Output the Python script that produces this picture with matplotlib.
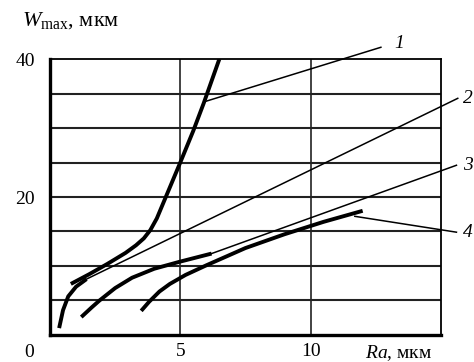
import matplotlib.pyplot as plt

plt.rcParams["font.family"] = ["Liberation Serif", "DejaVu Serif"]
plt.rcParams["mathtext.fontset"] = "custom"
plt.rcParams["mathtext.rm"] = "Liberation Serif"
plt.rcParams["mathtext.it"] = "Liberation Serif:italic"

# curve 1 (steep)
c1_x = [0.8, 1.5, 2.2, 2.9, 3.3, 3.6, 3.85, 4.1, 4.4, 4.7, 5.0, 5.5, 5.9, 6.5]
c1_y = [7.4, 8.8, 10.3, 11.9, 13.0, 14.0, 15.2, 16.9, 19.6, 22.3, 25.0, 29.6, 33.6, 40.0]
# curve 2: short thick rise, then thin straight part
c2_x = [0.35, 0.5, 0.7, 1.0, 1.4]
c2_y = [1.0, 3.6, 5.6, 7.0, 8.1]
c2_thin_x = [1.4, 15.65]
c2_thin_y = [8.1, 34.3]
# curve 3: thick part, then thin straight part
c3_x = [1.2, 1.6, 1.9, 2.5, 3.15, 4.0, 4.96, 6.2]
c3_y = [2.6, 4.0, 5.0, 6.8, 8.3, 9.6, 10.6, 11.8]
c3_thin_x = [6.2, 15.6]
c3_thin_y = [11.8, 24.6]
# curve 4
c4_x = [3.5, 3.8, 4.2, 4.6, 5.2, 6.0, 7.5, 9.0, 10.5, 12.0]
c4_y = [3.5, 4.8, 6.3, 7.4, 8.7, 10.1, 12.6, 14.6, 16.4, 18.0]

# leader lines
lead1_x = [5.92, 12.7]
lead1_y = [33.8, 41.7]
lead4_x = [11.7, 15.6]
lead4_y = [17.2, 14.9]

fig = plt.figure(figsize=(4.74, 3.62), dpi=100)
ax = fig.add_axes([0.1055, 0.0746, 0.8245, 0.7624])
ax.set_xlim(0, 15)
ax.set_ylim(0, 40)

for y in range(5, 40, 5):
    ax.axhline(y, color="#222222", lw=1.5, zorder=1)
for x in [5, 10]:
    ax.axvline(x, color="#222222", lw=1.2, zorder=1)

thick = dict(color="black", lw=2.8, solid_capstyle="butt", zorder=3)
thin = dict(color="black", lw=1.1, zorder=3, clip_on=False)

ax.plot(c1_x, c1_y, **thick)
ax.plot(c2_x, c2_y, **thick)
ax.plot(c2_thin_x, c2_thin_y, **thin)
ax.plot(c3_x, c3_y, **thick)
ax.plot(c3_thin_x, c3_thin_y, **thin)
ax.plot(c4_x, c4_y, **thick)
ax.plot(lead1_x, lead1_y, **thin)
ax.plot(lead4_x, lead4_y, **thin)

lab = dict(fontsize=14, style="italic", va="center", ha="left", clip_on=False)
ax.text(13.2, 42.3, "1", **lab)
ax.text(15.85, 34.3, "2", **lab)
ax.text(15.85, 24.6, "3", **lab)
ax.text(15.85, 14.9, "4", **lab)

for side in ["left", "bottom"]:
    ax.spines[side].set_linewidth(2.4)
for side in ["top", "right"]:
    ax.spines[side].set_linewidth(1.3)

ax.set_xticks([5, 10])
ax.set_xticklabels(["5", "10"], fontsize=14)
ax.set_yticks([20, 40])
ax.set_yticklabels(["20", "40"], fontsize=14)
ax.tick_params(axis="y", length=0, pad=11)
ax.tick_params(axis="x", length=0, pad=6)

ax.text(-0.8, -2.6, "0", fontsize=14, ha="center", va="center", clip_on=False)
ax.text(12.1, -2.6, "$Ra$, мкм", fontsize=14, ha="left", va="center",
        clip_on=False)
ax.text(-1.08, 45.6, "$W_{\\mathrm{max}}$, мкм", fontsize=16, ha="left",
        va="center", clip_on=False)

fig.savefig("out.png", dpi=100)
